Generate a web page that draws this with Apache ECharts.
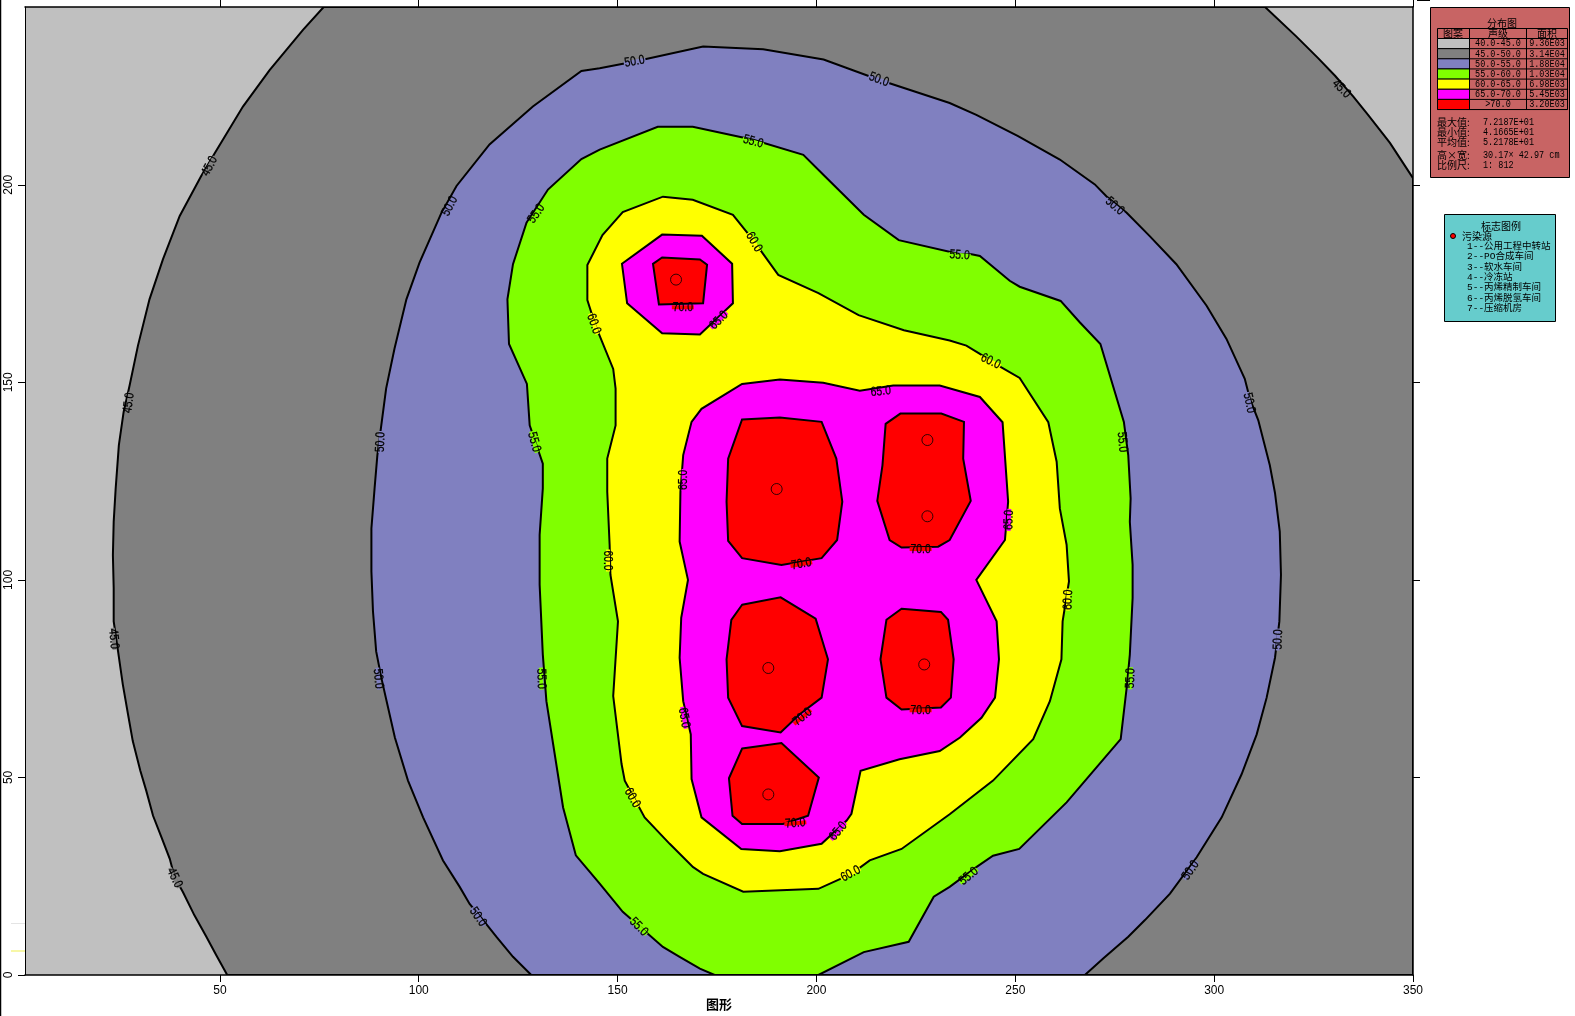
<!DOCTYPE html>
<html>
<head>
<meta charset="utf-8">
<title>分布图</title>
<style>html,body{margin:0;padding:0;background:#fff}#c{width:1575px;height:1016px}</style>
<script src="https://cdn.jsdelivr.net/npm/echarts@6/dist/echarts.min.js"></script>
</head>
<body>
<div id="c"></div>
<script>
const xTicks = [50, 100, 150, 200, 250, 300, 350];
const yTicks = [0, 50, 100, 150, 200];
const yTicksRight = [50, 100, 150, 200];
const levelColors = ['#C0C0C0', '#808080', '#8080C0', '#80FF00', '#FFFF00', '#FF00FF', '#FF0000'];
const levelRanges = ['40.0-45.0', '45.0-50.0', '50.0-55.0', '55.0-60.0', '60.0-65.0', '65.0-70.0', '>70.0'];
const levelAreas = ['9.36E03', '3.14E04', '1.88E04', '1.03E04', '6.98E03', '5.45E03', '3.20E03'];
const stats = [['最大值:', '7.2187E+01'], ['最小值:', '4.1665E+01'], ['平均值:', '5.2178E+01']];
const sizeInfo = [['高×宽:', '30.17× 42.97 cm'], ['比例尺:', '1: 812']];
const markLegend = ['1--公用工程中转站', '2--PO合成车间', '3--软水车间', '4--冷冻站', '5--丙烯精制车间', '6--丙烯脱氢车间', '7--压缩机房'];

const base40 = [[1,0],[350,0],[350,245],[1,245]];
const contour45 = [[51.85,0],[49.1,5],[46.6,9.7],[43.6,15.1],[40.7,21],[38.6,24.8],[37.4,29.4],[35.3,34.9],[33.2,40.3],[31.5,46.6],[30,51.7],[28.1,59.2],[26.9,66],[25.6,73.5],[24.4,81.9],[23.3,89.5],[23.3,97.9],[23.1,106.3],[23.3,114.7],[23.8,123.15],[24.6,134.1],[25.8,142.5],[27.3,149.2],[29.4,159.3],[32.3,171],[35.7,181.2],[39.9,192.1],[45.3,202.2],[48.7,208],[55.8,219.8],[62.5,229],[70.9,239.2],[76.1,245],[312.8,245],[320.7,237.5],[326.2,232],[330.4,227.6],[335,222.3],[338.7,217.7],[344.2,210.6],[350,201.7],[350,0]];
const contour50 = [[128.3,0],[123.7,4.6],[119.5,9.7],[116.2,13.9],[112.8,18],[110.3,22.3],[106.1,29],[101.1,39.9],[97.3,49.2],[94,60.1],[91.9,69.4],[90.6,75.2],[89.3,81.9],[88.5,92],[88.1,102.1],[88.1,113],[88.9,123.15],[89.6,131.6],[91.8,148.4],[93.9,158.5],[96.9,171],[100.2,180.3],[105.7,192.9],[109.5,199.7],[117.8,210.2],[128.7,219.8],[140.9,228.8],[145.5,229.5],[154.3,231.2],[171.5,235],[186.6,234.3],[201.8,231.7],[215.7,226.6],[233.5,220.7],[240.2,217.7],[250.7,212.3],[261.2,206.4],[270,200.1],[272.9,197.1],[278,192.9],[283.8,187],[290.5,179.9],[298.1,169.4],[303.1,161],[307.7,150.9],[309,145.8],[311.1,140.4],[314,129],[315.3,122],[316.5,112.2],[316.8,101.3],[316.4,89.5],[315.3,80.3],[313.2,70.2],[310.7,60.9],[306.9,50.8],[301.9,39.9],[295.6,29.8],[288.9,20.6],[282.6,13.9],[278.4,9.7],[272.1,4.2],[267.5,0]];
const contour55 = [[165.6,4.6],[170.7,1.6],[174.4,0],[200.5,0],[211.9,5.8],[223.2,8.4],[229.5,19.8],[233.5,22.3],[240.2,27.3],[244.4,30.2],[251,31.9],[262.9,43.7],[276.5,59.7],[278,72.7],[278.8,81.1],[279.5,95.4],[279.5,103.8],[278.8,114.7],[279,120.6],[278.4,131.6],[277.3,140],[271.4,159.7],[266.2,165.2],[261.4,170.6],[251.1,174.2],[248.6,175.7],[241.1,182],[239,182.4],[235.9,182.5],[220.7,186],[211.9,192.4],[201.8,202.5],[196.7,207.6],[184.1,211.4],[168.9,214.7],[160.1,214.7],[145.5,208.9],[140.9,206.5],[132.5,198.8],[127.1,190.4],[123.7,179.9],[122.3,171],[122.7,159.7],[127.2,149.6],[127.9,139.1],[131.2,129.4],[131.2,123.15],[130.4,111.4],[130.4,98.8],[131.2,81.1],[132.1,69.3],[133.8,58.4],[136.3,42.4],[139.5,30.3],[145.5,23.1],[151.3,16],[161.4,7.1]];
const contour60 = [[169,27.3],[171.5,25.6],[181.6,21.1],[200.5,21.8],[208.8,25.6],[213.4,29],[221.4,31.9],[233.5,40.7],[244.4,49.2],[254.5,59.7],[258.7,69.3],[261.6,79.9],[261.9,89.5],[263.5,99.6],[262.9,108.9],[261.2,118.1],[260.4,129.9],[258.3,139.9],[251.1,151.1],[246.5,153.8],[241.1,157.2],[237.7,159.3],[233.5,160.6],[222,163.2],[210.6,167],[200.5,172.6],[190.4,177.2],[184.1,186],[179,192.4],[168.9,196.2],[161.4,197],[151.3,193.1],[146.2,187.3],[142.4,179.7],[142.4,170.8],[144.4,164.5],[148.9,153.4],[149.5,148.4],[149.5,139.1],[147.4,130.7],[147.4,122.3],[148,108.9],[148.2,101.3],[150.1,89.5],[148.9,70.6],[151,53.4],[151.8,49.2],[156.8,39.9],[163.1,33.2]];
const contour65a = [[181.3,149.6],[190.8,150.7],[201.7,149.9],[210.9,147.9],[219.3,149.2],[231,149.2],[241.1,146.3],[246.8,139.9],[248.2,119.8],[247.4,110.1],[240.2,100],[245.3,89.5],[245.9,79.9],[244.9,70.2],[241.5,65.1],[236.1,60.1],[231,56.7],[220.9,54.6],[211.1,51.7],[208.8,40.8],[207.6,39.1],[201.3,33.2],[190.8,31.3],[181.1,31.9],[171.1,39.9],[168.6,49.6],[168.4,60.9],[166.5,69.3],[165.6,80.3],[166,90.4],[167.7,100],[165.6,109.7],[165.8,122.3],[166.5,131.6],[168.6,140],[171.1,143.3]];
const contour65b = [[151.1,180],[161.2,187.4],[171.2,187.1],[178.8,180],[179,170],[170.7,162.1],[161.2,162.4],[152.4,170]];
const contour70a = [[158.9,180],[161.2,181.6],[170.7,181.1],[172.5,179.8],[171.5,170],[160.4,169.7]];
const contour70b = [[181.3,140.6],[190.8,141.1],[201.3,140],[205,130.7],[206.5,119.8],[205.2,110.1],[201.3,105.5],[191.2,103.8],[181.3,105.5],[177.8,109.9],[177.4,119.8],[177.8,130.7]];
const contour70c = [[221.1,142.1],[231.4,142.1],[237.1,140],[236.9,130.7],[238.8,120],[233.5,110.1],[230.6,108.4],[221.4,108.2],[218.4,110.1],[215.3,120],[216.6,129],[217.4,139.5]];
const contour70d = [[181.3,93.7],[191,95.6],[199.8,90.2],[202.9,79.9],[201.3,70.2],[195.8,66],[191,61.4],[181.3,63],[177.8,70.2],[177.4,79.9],[178.6,89.9]];
const contour70e = [[221.4,92.7],[231.3,91.9],[233.1,89.9],[234.5,79.9],[233.8,70.2],[231.3,67.7],[221.4,67.2],[217.6,70.2],[216.1,79.9],[217.6,89.9]];
const contour70f = [[181.3,57.3],[191.2,58.7],[200.6,50],[197.9,40.3],[191.6,38.2],[181.3,38.2],[178.9,40.3],[178,49.8]];
const sources = [[190,123],[227.9,135.4],[227.9,116.1],[187.9,77.7],[227.1,78.6],[187.9,45.7],[164.7,176]];

const labelLevels = ['45.0', '50.0', '55.0', '60.0', '65.0', '70.0'];
const labelPoints = [
  [[47.4,204.7],[27.1,144.8],[23.3,85.1],[38.6,24.6],[332,224.3]],
  [[154.3,231.2],[215.7,226.6],[275,194.6],[308.8,144.8],[316.1,84.9],[294.1,26.5],[114.9,14.7],[89.8,75],[90.4,134.9],[107.8,194.6]],
  [[184.1,210.9],[236,182.2],[276.9,134.9],[279,75.1],[238.3,25],[155.3,12.2],[130.8,75],[129,134.9],[129.6,192.7]],
  [[184.3,185.5],[243.8,155.3],[263.3,95],[208.6,25.6],[153.7,44.8],[147.6,104.9],[144,164.8]],
  [[216.2,147.7],[166.6,125.3],[248.4,115.2],[166.7,65.1],[205.5,36.4],[175.5,165.7]],
  [[166.4,169],[196.2,104],[226.2,107.8],[196.5,65.3],[226.2,67],[194.7,38.4]]
];
const labelAngles = [
  [62,82,-85,-65,-45],
  [10,-20,-40,-78,88,55,-55,-85,88,62],
  [-15,-4,-85,88,40,-45,-88,-75,55],
  [-60,-25,88,28,-60,-90,-70],
  [5,90,88,-80,50,45],
  [0,10,0,40,0,5]
];

const zones = [
  [base40, 0, false], [contour45, 1, true], [contour50, 2, true], [contour55, 3, true],
  [contour60, 4, true], [contour65a, 5, true], [contour65b, 5, true],
  [contour70a, 6, true], [contour70b, 6, true], [contour70c, 6, true],
  [contour70d, 6, true], [contour70e, 6, true], [contour70f, 6, true]
];

const series = zones.map(([pts, level, stroked]) => ({
  type: 'custom',
  coordinateSystem: 'cartesian2d',
  silent: true,
  clip: true,
  data: pts,
  encode: { x: 0, y: 1 },
  renderItem(params, api) {
    if (params.dataIndex !== 0) return null;
    return {
      type: 'polygon',
      shape: { points: pts.map(p => api.coord(p)) },
      style: { fill: levelColors[level], stroke: stroked ? '#000' : null, lineWidth: 2 }
    };
  }
}));

labelLevels.forEach((text, i) => {
  series.push({
    type: 'custom',
    coordinateSystem: 'cartesian2d',
    silent: true,
    z: 5,
    data: labelPoints[i],
    encode: { x: 0, y: 1 },
    renderItem(params, api) {
      const pt = api.coord([api.value(0), api.value(1)]);
      return {
        type: 'group',
        x: pt[0],
        y: pt[1],
        rotation: labelAngles[i][params.dataIndex] * Math.PI / 180,
        children: [
          {
            type: 'rect',
            shape: { x: -11, y: -2, width: 22, height: 4 },
            style: { fill: levelColors[i + 1] }
          },
          {
            type: 'text',
            scaleX: 0.8,
            style: {
              text,
              x: 0,
              y: 0,
              textAlign: 'center',
              textVerticalAlign: 'middle',
              font: '13px "Liberation Sans",sans-serif',
              fill: '#000',
              stroke: '#000',
              lineWidth: 0.25
            }
          }
        ]
      };
    }
  });
});

series.push({
  type: 'scatter',
  silent: true,
  z: 6,
  symbolSize: 11,
  itemStyle: { color: 'transparent', borderColor: '#000', borderWidth: 1 },
  data: sources
});

const numFont = '8.5px "Liberation Mono","Noto Sans CJK SC",monospace';
const cjkFont = '10px "Noto Sans CJK SC",sans-serif';
const mixFont = '9.5px "Liberation Mono","Noto Sans CJK SC",monospace';
const txt = (text, x, y, font, align, sy) => ({
  type: 'text', z: 20, silent: true,
  originX: x, originY: y, scaleY: sy || 1,
  style: { text, x, y, font, fill: '#000', textAlign: align || 'left', textVerticalAlign: 'middle' }
});
const rect = (x, y, width, height, fill, stroke) => ({
  type: 'rect', z: 19, silent: true,
  shape: { x, y, width, height },
  style: { fill: fill || 'transparent', stroke: stroke || null, lineWidth: 1 }
});
const line = (x1, y1, x2, y2, stroke, lineWidth) => ({
  type: 'line', z: 19, silent: true,
  shape: { x1, y1, x2, y2 },
  style: { stroke: stroke || '#000', lineWidth: lineWidth || 1 }
});

const graphicEls = [
  line(0.5, 0, 0.5, 1016, '#000', 1.5),
  line(11, 923.5, 25, 923.5, '#e4e4e4', 1),
  line(11, 951, 25, 951, '#f4f48a', 1.5),
  line(1417, 0.5, 1430, 0.5, '#000', 1),
  rect(1430.5, 7.5, 139, 170, '#C86464', '#000'),
  txt('分布图', 1502, 23, cjkFont, 'center'),
  rect(1437.5, 28.5, 130, 81, null, '#000'),
  line(1469.5, 28.5, 1469.5, 109.5),
  line(1526.5, 28.5, 1526.5, 109.5),
  line(1437.5, 38.5, 1567.5, 38.5),
  txt('图案', 1453, 33.5, cjkFont, 'center'),
  txt('声级', 1498, 33.5, cjkFont, 'center'),
  txt('面积', 1547, 33.5, cjkFont, 'center')
];
levelColors.forEach((c, i) => {
  const y = 38.5 + i * 10.15;
  graphicEls.push(rect(1437.5, y, 32, 10.15, c, '#000'));
  graphicEls.push(line(1469.5, y + 10.15, 1567.5, y + 10.15));
  graphicEls.push(txt(levelRanges[i], 1498, y + 5.2, numFont, 'center', 1.2));
  graphicEls.push(txt(levelAreas[i], 1547, y + 5.2, numFont, 'center', 1.2));
});
stats.forEach((s, i) => {
  graphicEls.push(txt(s[0], 1437, 122 + i * 10, cjkFont));
  graphicEls.push(txt(s[1], 1483, 122 + i * 10, numFont, 'left', 1.2));
});
sizeInfo.forEach((s, i) => {
  graphicEls.push(txt(s[0], 1437, 155 + i * 10, cjkFont));
  graphicEls.push(txt(s[1], 1483, 155 + i * 10, numFont, 'left', 1.2));
});
graphicEls.push(rect(1444.5, 214.5, 111, 107, '#66CCCC', '#000'));
graphicEls.push(txt('标志图例', 1501, 226, cjkFont, 'center'));
graphicEls.push({
  type: 'circle', z: 20, silent: true,
  shape: { cx: 1453, cy: 236, r: 2.5 },
  style: { fill: '#FF0000', stroke: '#000', lineWidth: 1 }
});
graphicEls.push(txt('污染源', 1462, 236, cjkFont));
markLegend.forEach((t, i) => {
  graphicEls.push(txt(t, 1467, 246.5 + i * 10.3, mixFont));
});

const axisLabelBase = { color: '#000', fontSize: 12, fontFamily: '"Liberation Sans Narrow","Liberation Sans",sans-serif' };
const axisLineBase = { show: true, onZero: false, lineStyle: { color: '#000', width: 1.5 } };
const tickBase = { lineStyle: { color: '#000', width: 1 }, length: 7 };

const chart = echarts.init(document.getElementById('c'), null, { renderer: 'canvas' });
chart.setOption({
  animation: false,
  backgroundColor: '#fff',
  grid: { left: 25, right: 162, top: 7, bottom: 38, containLabel: false },
  xAxis: [
    {
      type: 'value', min: 1, max: 350, position: 'bottom', z: 10,
      name: '图形', nameLocation: 'middle', nameGap: 23,
      nameMoveOverlap: false,
      nameTextStyle: { color: '#000', fontSize: 13, fontWeight: 'bold', fontFamily: '"Noto Sans CJK SC",sans-serif' },
      axisLine: axisLineBase,
      axisTick: { ...tickBase, customValues: xTicks },
      axisLabel: { ...axisLabelBase, customValues: xTicks, margin: 10 },
      splitLine: { show: false }
    },
    {
      type: 'value', min: 1, max: 350, position: 'top', z: 10,
      axisLine: axisLineBase,
      axisTick: { ...tickBase, customValues: xTicks },
      axisLabel: { show: false },
      splitLine: { show: false }
    }
  ],
  yAxis: [
    {
      type: 'value', min: 0, max: 245, position: 'left', z: 10,
      axisLine: { ...axisLineBase, lineStyle: { color: '#000', width: 1 } },
      axisTick: { ...tickBase, customValues: yTicks },
      axisLabel: { ...axisLabelBase, customValues: yTicks, rotate: 90, margin: 10 },
      splitLine: { show: false }
    },
    {
      type: 'value', min: 0, max: 245, position: 'right', z: 10,
      axisLine: axisLineBase,
      axisTick: { ...tickBase, customValues: yTicksRight },
      axisLabel: { show: false },
      splitLine: { show: false }
    }
  ],
  graphic: { elements: graphicEls },
  series
});
</script>
</body>
</html>
